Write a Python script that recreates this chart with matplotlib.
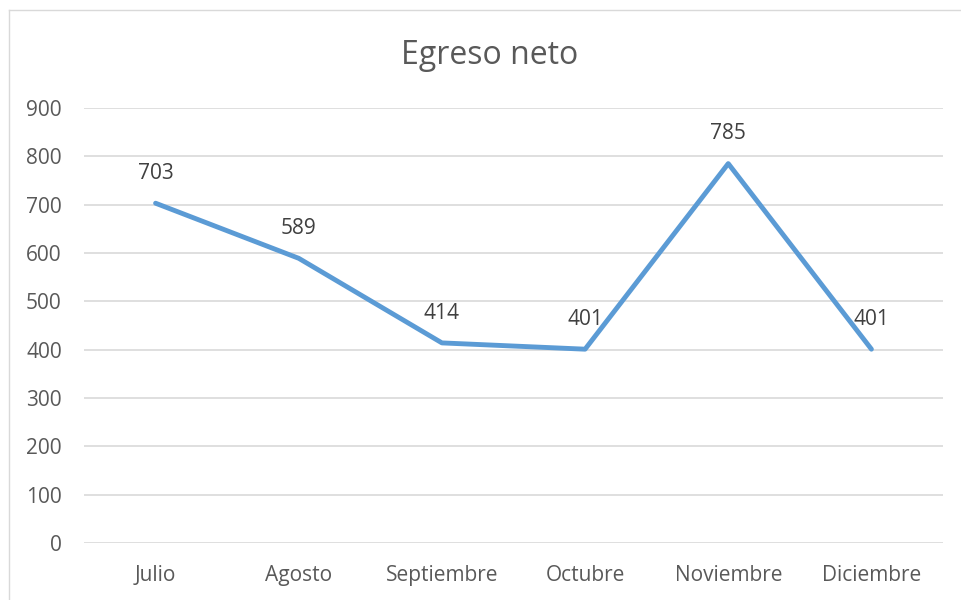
import matplotlib
matplotlib.use("Agg")
import matplotlib.pyplot as plt
from matplotlib.lines import Line2D

months = ["Julio", "Agosto", "Septiembre", "Octubre", "Noviembre", "Diciembre"]
values = [703, 589, 414, 401, 785, 401]
yticks = [0, 100, 200, 300, 400, 500, 600, 700, 800, 900]
title = "Egreso neto"

plt.rcParams['font.family'] = ['Open Sans', 'DejaVu Sans']
txt = "#595959"
grid = "#d9d9d9"
blue = "#5b9bd5"

fig = plt.figure(figsize=(9.61, 6.0), dpi=100)
ax = fig.add_axes([84/961, 57/600, (943-84)/961, (543-108)/600])

x = list(range(len(months)))
ax.plot(x, values, color=blue, linewidth=3.5, solid_capstyle='round', solid_joinstyle='round', zorder=3)
for xi, v in zip(x, values):
    ax.annotate(str(v), (xi, v), xytext=(0, 21.5), textcoords='offset points',
                ha='center', va='center', fontsize=15, color="#404040")

ax.set_xlim(-0.5, len(months) - 0.5)
ax.set_ylim(0, 900)
ax.set_yticks(yticks)
ax.set_yticklabels([str(t) for t in yticks])
ax.set_xticks(x)
ax.set_xticklabels(months)
ax.tick_params(axis='both', length=0, labelsize=15, labelcolor=txt)
ax.tick_params(axis='y', pad=16)
ax.tick_params(axis='x', pad=16)
ax.grid(axis='y', color=grid, linewidth=1.2)
ax.set_axisbelow(True)
for s in ax.spines.values():
    s.set_visible(False)

fig.text(490/961, 1 - 55/600, title, ha='center', va='center', fontsize=23, color=txt)

# chart border (top and left)
fig.add_artist(Line2D([8.5/961, 1.0], [1 - 9.5/600, 1 - 9.5/600], transform=fig.transFigure, color=grid, linewidth=1))
fig.add_artist(Line2D([8.5/961, 8.5/961], [0, 1 - 9.5/600], transform=fig.transFigure, color=grid, linewidth=1))

fig.savefig("out.png", dpi=100)
